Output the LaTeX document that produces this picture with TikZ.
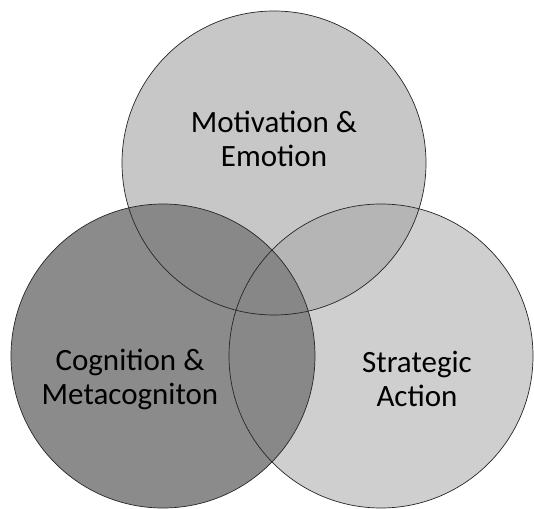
\documentclass[tikz,border=0pt]{standalone}
\usepackage{fontspec}
\setmainfont{Carlito}
\begin{document}
\begin{tikzpicture}[x=1pt,y=1pt,
  ring/.style={draw=black!85,line width=0.7pt},
  lbl/.style={align=center,font=\fontsize{31}{34}\selectfont,text=black,inner sep=0pt}]
\useasboundingbox (0,0) rectangle (534,508);
\fill[white] (0,0) rectangle (534,508);
\coordinate (ct) at (274,345);
\coordinate (cl) at (163,152);
\coordinate (cr) at (381,152);
\fill[black!22] (ct) circle (152);
\fill[black!34,fill opacity=0.55] (cr) circle (152);
\fill[black!48,fill opacity=0.95] (cl) circle (152);
\draw[ring] (ct) circle (152);
\draw[ring] (cr) circle (152);
\draw[ring] (cl) circle (152);
\node[lbl] (mot) at (274,369) {Motivation \&\\Emotion};
\node[lbl] (cog) at (130,129) {Cognition \&\\Metacogniton};
\node[lbl] (str) at (417,129) {Strategic\\Action};
\end{tikzpicture}
\end{document}
